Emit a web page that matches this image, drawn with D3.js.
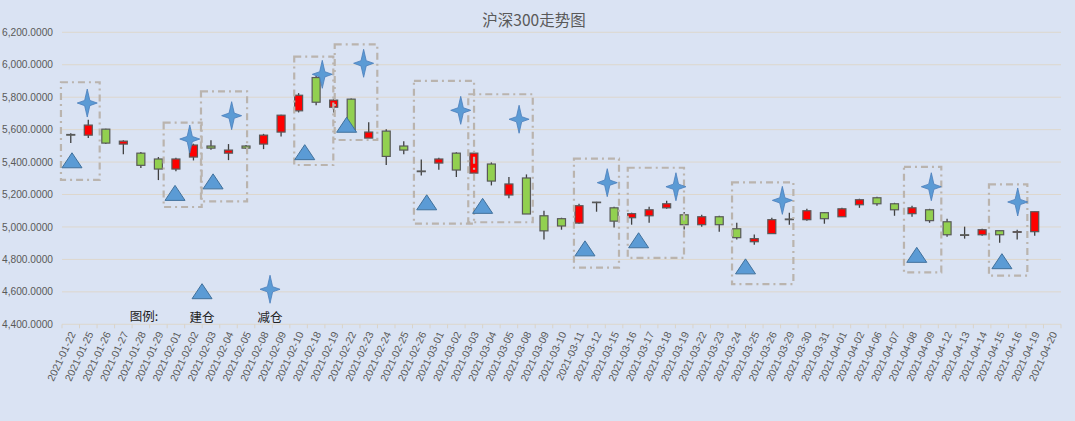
<!DOCTYPE html>
<html><head><meta charset="utf-8">
<script src="https://cdn.jsdelivr.net/npm/d3@7"></script>
<style>
html,body{margin:0;padding:0;background:#dae3f3;}
svg{display:block;}
text{font-family:"Liberation Sans","DejaVu Sans",sans-serif;}
</style></head>
<body><svg id="c" width="1075" height="421"></svg>
<script>
const dates = ["2021-01-22","2021-01-25","2021-01-26","2021-01-27","2021-01-28","2021-01-29","2021-02-01","2021-02-02","2021-02-03","2021-02-04","2021-02-05","2021-02-08","2021-02-09","2021-02-10","2021-02-18","2021-02-19","2021-02-22","2021-02-23","2021-02-24","2021-02-25","2021-02-26","2021-03-01","2021-03-02","2021-03-03","2021-03-04","2021-03-05","2021-03-08","2021-03-09","2021-03-10","2021-03-11","2021-03-12","2021-03-15","2021-03-16","2021-03-17","2021-03-18","2021-03-19","2021-03-22","2021-03-23","2021-03-24","2021-03-25","2021-03-26","2021-03-29","2021-03-30","2021-03-31","2021-04-01","2021-04-02","2021-04-06","2021-04-07","2021-04-08","2021-04-09","2021-04-12","2021-04-13","2021-04-14","2021-04-15","2021-04-16","2021-04-19","2021-04-20"];
const openV  = [5570,5566,5603,5511,5455,5419,5357,5431,5499,5455,5499,5511,5585,5716,5921,5738,5788,5548,5591,5499,5345,5394,5455,5332,5388,5197,5302,5069,5051,5024,5153,5118,5057,5069,5118,5075,5014,5063,4989,4909,4959,5045,5045,5088,5063,5137,5180,5143,5082,5106,5032,4952,4952,4977,4967,4971,null];
const highV  = [5578,5661,5606,5535,5462,5431,5427,5513,5535,5511,5505,5574,5692,5825,5930,5790,5792,5646,5603,5529,5416,5427,5460,5460,5398,5308,5324,5100,5057,5143,5155,5124,5088,5125,5161,5092,5075,5069,5026,4953,5057,5088,5112,5092,5118,5174,5186,5149,5131,5112,5051,5002,4989,4977,4983,5094,null];
const lowV   = [5517,5548,5511,5449,5363,5289,5343,5410,5476,5412,5480,5480,5558,5706,5751,5706,5590,5548,5382,5449,5318,5353,5308,5330,5256,5177,5080,4922,4983,5020,5094,4996,5014,5026,5112,4985,5002,4971,4922,4891,4959,5014,5039,5020,5063,5118,5131,5069,5063,5026,4940,4928,4946,4903,4922,4946,null];
const closeV = [5566,5628,5517,5529,5380,5357,5419,5505,5486,5474,5486,5566,5689,5812,5769,5782,5599,5585,5435,5474,5341,5419,5351,5455,5283,5265,5080,4976,5006,5131,5150,5036,5082,5106,5143,5014,5063,5014,4934,4928,5045,5049,5100,5051,5112,5168,5143,5106,5118,5039,4952,4948,4983,4952,4971,5094,null];
const yTicks = [4400,4600,4800,5000,5200,5400,5600,5800,6000,6200];

// markers: position in category units (0 = left edge of first category), value
const buyPos  = [0.57,6.45,8.62,13.85,16.24,20.81,24.0,29.84,32.9,39.0,48.77,53.63];
const buyVal  = [5408,5207,5278,5458,5627,5149,5127,4865,4915,4754,4825,4786];
const sellPos = [1.44,7.29,9.68,14.85,17.21,22.75,26.08,31.11,35.03,41.1,49.6,54.53];
const sellVal = [5764,5542,5686,5941,6009,5719,5664,5273,5248,5164,5248,5154];
// annotation boxes: [u0,u1,vTop,vBottom]
const boxes = [[-0.06,2.15,5892,5290],[5.80,7.97,5643,5123],[7.93,10.56,5836,5158],[13.25,15.48,6050,5382],[15.56,17.99,6126,5536],[20.08,23.51,5900,5020],[23.18,26.86,5818,5029],[29.21,31.78,5421,4749],[32.28,35.49,5365,4809],[38.23,41.73,5275,4648],[48.04,50.17,5371,4720],[52.89,55.08,5263,4700]];
const legendTitle = "图例:";
const legendItems = [{label:"建仓", type:"buy", pos:7.99, val:4601},{label:"减仓", type:"sell", pos:11.87, val:4616}];
const title = "沪深300走势图";

const svg = d3.select("#c");
const L = 62, R = 1061, T = 32.3, B = 324.3;
const x = d3.scaleBand().domain(dates).range([L,R]).padding(0);
const u = d3.scaleLinear().domain([0,dates.length]).range([L,R]);
const y = d3.scaleLinear().domain([4400,6200]).range([B,T]);

svg.append("rect").attr("width",1075).attr("height",421).attr("fill","#dae3f3");

// title
svg.append("text").attr("x",534).attr("y",26).attr("text-anchor","middle")
  .attr("font-size",15.5).attr("fill","#595959")
  .style("font-family","'Noto Sans CJK SC',sans-serif").text(title);

// gridlines
svg.append("g").selectAll("line").data(yTicks).join("line")
  .attr("x1",L).attr("x2",R).attr("y1",d=>y(d)).attr("y2",d=>y(d))
  .attr("stroke","#ddd7cd").attr("stroke-width",1);

// y axis labels
const fmt = d3.format(",.4f");
svg.append("g").selectAll("text").data(yTicks).join("text")
  .attr("x",53).attr("y",d=>y(d)).attr("dy","0.35em").attr("text-anchor","end")
  .attr("font-size",10.2).attr("fill","#595959").text(d=>fmt(d));

// x axis ticks
const tickPos = d3.range(dates.length+1);
svg.append("g").selectAll("line").data(tickPos).join("line")
  .attr("x1",d=>u(d)).attr("x2",d=>u(d)).attr("y1",B).attr("y2",B+4)
  .attr("stroke","#d9d3c9").attr("stroke-width",1);

// x labels
svg.append("g").selectAll("text").data(dates).join("text")
  .attr("transform",d=>`translate(${x(d)+x.bandwidth()/2+2},${B+8}) rotate(-65)`)
  .attr("text-anchor","end").attr("dy","0.35em")
  .attr("font-size",10.4).attr("fill","#595959").text(d=>d);

// candles
const candles = dates.map((d,i)=>({d,o:openV[i],h:highV[i],l:lowV[i],c:closeV[i]})).filter(e=>e.o!=null);
const cw = 8;
const g = svg.append("g");
g.selectAll("line.wick").data(candles).join("line").attr("class","wick")
  .attr("x1",e=>x(e.d)+x.bandwidth()/2).attr("x2",e=>x(e.d)+x.bandwidth()/2)
  .attr("y1",e=>y(e.h)).attr("y2",e=>y(e.l)).attr("stroke","#404040").attr("stroke-width",1.3);
g.selectAll("rect.body").data(candles).join("rect").attr("class","body")
  .attr("x",e=>x(e.d)+x.bandwidth()/2-cw/2).attr("width",cw)
  .attr("y",e=>y(Math.max(e.o,e.c))).attr("height",e=>Math.max(0.5,y(Math.min(e.o,e.c))-y(Math.max(e.o,e.c))))
  .attr("fill",e=>e.c>=e.o?"#ff0000":"#92d050").attr("stroke","#595959").attr("stroke-width",1.2);

// boxes
svg.append("g").selectAll("rect").data(boxes).join("rect")
  .attr("x",b=>u(b[0])).attr("width",b=>u(b[1])-u(b[0]))
  .attr("y",b=>y(b[2])).attr("height",b=>y(b[3])-y(b[2]))
  .attr("fill","none").attr("stroke","#bab4ae").attr("stroke-width",2.2)
  .attr("stroke-dasharray","7,4,2,4");

function triPath(cx,cy){ return `M${cx},${cy-8}L${cx+10},${cy+7}L${cx-10},${cy+7}Z`; }
function starPath(cx,cy){
  const a=10, b=14, r=2.6;
  return `M${cx},${cy-b}L${cx+r},${cy-r}L${cx+a},${cy}L${cx+r},${cy+r}L${cx},${cy+b}L${cx-r},${cy+r}L${cx-a},${cy}L${cx-r},${cy-r}Z`;
}
const buys = buyPos.map((p,i)=>({p,v:buyVal[i]}));
const sells = sellPos.map((p,i)=>({p,v:sellVal[i]}));
svg.append("g").selectAll("path").data(buys).join("path")
  .attr("d",m=>triPath(u(m.p),y(m.v))).attr("fill","#5b9bd5").attr("stroke","#41719c").attr("stroke-width",1);
svg.append("g").selectAll("path").data(sells).join("path")
  .attr("d",m=>starPath(u(m.p),y(m.v))).attr("fill","#5b9bd5").attr("stroke","#4a7ebb").attr("stroke-width",0.8);

// legend
svg.append("text").attr("x",144).attr("y",321).attr("text-anchor","middle")
  .attr("font-size",12.5).attr("fill","#222").style("font-family","'Noto Sans CJK SC',sans-serif").text(legendTitle);
legendItems.forEach(it=>{
  const cx=u(it.pos), cy=y(it.val);
  svg.append("path").attr("d",it.type==="buy"?triPath(cx,cy):starPath(cx,cy))
    .attr("fill","#5b9bd5").attr("stroke",it.type==="buy"?"#41719c":"#4a7ebb").attr("stroke-width",it.type==="buy"?1:0.8);
  svg.append("text").attr("x",cx).attr("y",322).attr("text-anchor","middle")
    .attr("font-size",12.5).attr("fill","#222").style("font-family","'Noto Sans CJK SC',sans-serif").text(it.label);
});
</script></body></html>
